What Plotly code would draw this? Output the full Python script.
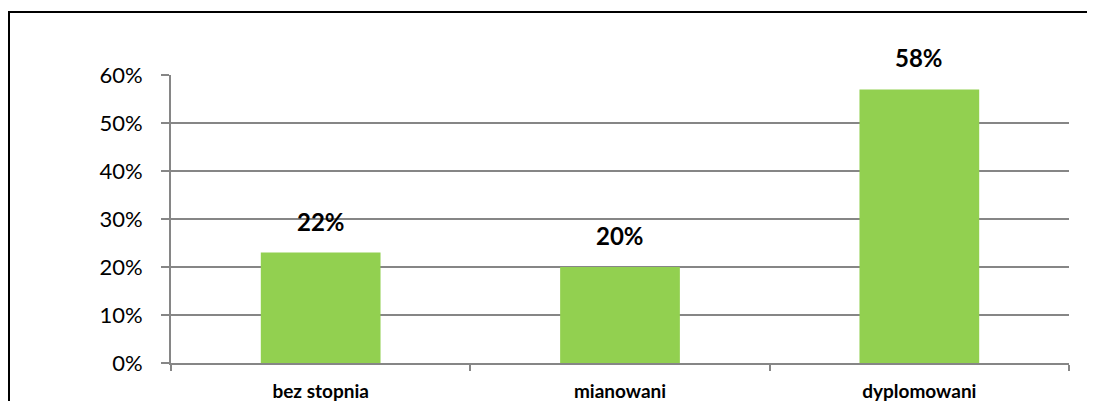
import plotly.graph_objects as go

# Dane wykresu
kategorie = ["bez stopnia", "mianowani", "dyplomowani"]
wartosci = [0.23, 0.20, 0.57]
etykiety = ["22%", "20%", "58%"]
y_ticks = [0, 0.1, 0.2, 0.3, 0.4, 0.5, 0.6]

fig = go.Figure()

fig.add_trace(
    go.Bar(
        x=kategorie,
        y=wartosci,
        marker=dict(color="#92D050", line=dict(width=0)),
        width=0.4,
        hoverinfo="skip",
    )
)

# Etykiety danych nad słupkami
for kat, val, txt in zip(kategorie, wartosci, etykiety):
    fig.add_annotation(
        x=kat,
        y=val,
        text=f"<b>{txt}</b>",
        showarrow=False,
        yanchor="bottom",
        yshift=15,
        font=dict(size=24, color="#000000", family="Lato, sans-serif"),
    )

# Ramka wokół wykresu
fig.add_shape(
    type="rect",
    xref="paper",
    yref="paper",
    x0=-0.1804,
    x1=1.0267,
    y0=-0.3,
    y1=1.21875,
    line=dict(color="#000000", width=2),
    layer="above",
)

fig.update_layout(
    width=1087,
    height=393,
    template="plotly_white",
    showlegend=False,
    margin=dict(l=163, r=26, t=67, b=38),
    font=dict(family="Lato, sans-serif", color="#000000"),
    paper_bgcolor="#ffffff",
    plot_bgcolor="#ffffff",
    xaxis=dict(
        range=[-0.5, 2.5],
        automargin=False,
        showgrid=False,
        zeroline=False,
        showline=True,
        linecolor="#868686",
        linewidth=2,
        ticks="outside",
        tickson="boundaries",
        ticklen=6,
        tickwidth=2,
        tickcolor="#868686",
        tickfont=dict(size=19, color="#000000", family="Lato, sans-serif", weight="bold"),
        ticklabelstandoff=10,
    ),
    yaxis=dict(
        range=[0, 0.6],
        automargin=False,
        tickvals=y_ticks,
        tickformat=".0%",
        showgrid=True,
        gridcolor="#868686",
        gridwidth=2,
        zeroline=False,
        showline=True,
        linecolor="#868686",
        linewidth=2,
        ticks="outside",
        ticklen=8,
        tickwidth=2,
        tickcolor="#868686",
        tickfont=dict(size=22, color="#000000", family="Lato, sans-serif"),
        ticklabelstandoff=14,
    ),
)

fig.write_html("out.html")
